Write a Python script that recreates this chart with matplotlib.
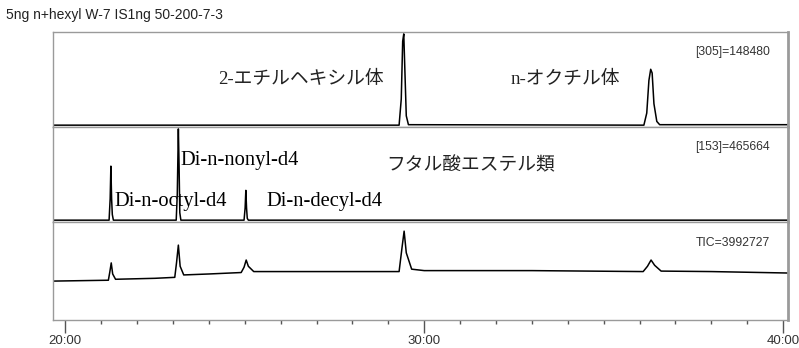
import numpy as np
import matplotlib
matplotlib.use('Agg')
import matplotlib.pyplot as plt

# --- data (intensity in % of each trace's full scale, time in min) ---
t_305 = [19.65, 29.30, 29.36, 29.40, 29.43, 29.46, 29.50, 29.56, 36.12, 36.20,
         36.26, 36.31, 36.35, 36.40, 36.48, 36.56, 40.13]
i_305 = [2, 2, 30, 92, 100, 62, 12, 2.5, 2, 15,
         50, 62, 58, 25, 6, 2.5, 2.5]

t_153 = [19.65, 21.22, 21.25, 21.27, 21.29, 21.31, 21.34, 23.09, 23.12, 23.15,
         23.17, 23.19, 23.22, 24.98, 25.01, 25.03, 25.05, 25.07, 25.10, 40.13]
i_153 = [2, 2, 25, 60, 25, 8, 2, 2, 30, 100,
         60, 10, 2, 2, 15, 34, 15, 4, 2, 2]

t_tic = [19.65, 21.20, 21.24, 21.28, 21.32, 21.40, 22.50, 23.05, 23.10, 23.15,
         23.20, 23.30, 24.00, 24.90, 24.98, 25.04, 25.10, 25.25, 28.00, 29.30,
         29.38, 29.44, 29.50, 29.65, 30.00, 33.00, 36.10, 36.22, 36.32, 36.42,
         36.60, 38.00, 40.13]
i_tic = [40.6, 41.5, 50, 59.5, 48, 42.5, 43.5, 44.5, 60, 78,
         56, 47, 48, 49.5, 55, 62.5, 56, 50.5, 50.5, 50.5,
         75, 92.5, 70, 53, 51.5, 51.5, 50.5, 56, 62.5, 57,
         51, 50.5, 49]

traces = [(t_305, i_305, '[305]=148480'),
          (t_153, i_153, '[153]=465664'),
          (t_tic, i_tic, 'TIC=3992727')]

header = '5ng n+hexyl W-7 IS1ng 50-200-7-3'
major_ticks = [20, 30, 40]
major_labels = ['20:00', '30:00', '40:00']
minor_ticks = [m for m in range(21, 40) if m != 30]

frame_col = '#9a9a9a'
serif = ['Liberation Serif', 'Noto Sans CJK JP']
jp = ['Noto Sans CJK JP', 'Liberation Serif']
sans = ['Liberation Sans', 'DejaVu Sans']

fig = plt.figure(figsize=(7.99, 3.48), dpi=100)
left, width = 0.066, 0.920
# three stacked traces sharing their borders
boxes = [(0.635, 0.273), (0.362, 0.273), (0.080, 0.282)]

axes = []
for (bottom, height), (t, y, lab) in zip(boxes, traces):
    ax = fig.add_axes([left, bottom, width, height])
    ax.plot(t, y, color='black', lw=1.1)
    ax.set_xlim(19.65, 40.13)
    ax.set_ylim(0, 102)
    ax.set_yticks([])
    ax.set_xticks([])
    for s in ax.spines.values():
        s.set_color(frame_col)
        s.set_linewidth(1.0)
    ax.spines['right'].set_linewidth(2.0)
    ax.text(0.976, 0.79, lab, transform=ax.transAxes, ha='right', va='center',
            fontsize=8.8, family=sans, color='#333333')
    axes.append(ax)

ax1, ax2, ax3 = axes

# compound labels
ax1.text(24.26, 51.5, '2-エチルヘキシル体', fontsize=13.5, family=serif,
         va='center', ha='left', color='#222222')
ax1.text(32.40, 51.5, 'n-オクチル体', fontsize=13.5, family=serif,
         va='center', ha='left', color='#222222')
ax2.text(28.95, 61, 'フタル酸エステル類', fontsize=13.5, family=jp,
         va='center', ha='left', color='#222222')
ax2.text(23.20, 66.5, 'Di-n-nonyl-d4', fontsize=14.8, family=serif,
         va='center', ha='left')
ax2.text(21.37, 22, 'Di-n-octyl-d4', fontsize=14.8, family=serif,
         va='center', ha='left')
ax2.text(25.60, 22, 'Di-n-decyl-d4', fontsize=14.8, family=serif,
         va='center', ha='left')

# time axis on the bottom trace
ax3.set_xticks(major_ticks)
ax3.set_xticklabels(major_labels, family=sans, fontsize=9.5, color='#333333')
ax3.set_xticks(minor_ticks, minor=True)
ax3.tick_params(axis='x', which='major', length=9, width=1.0, color='#555555',
                pad=2)
ax3.tick_params(axis='x', which='minor', length=3, width=1.0, color='#555555')

fig.text(0.008, 0.958, header, fontsize=10, family=sans, color='#222222',
         ha='left', va='center')

fig.savefig('out.png', dpi=100)
